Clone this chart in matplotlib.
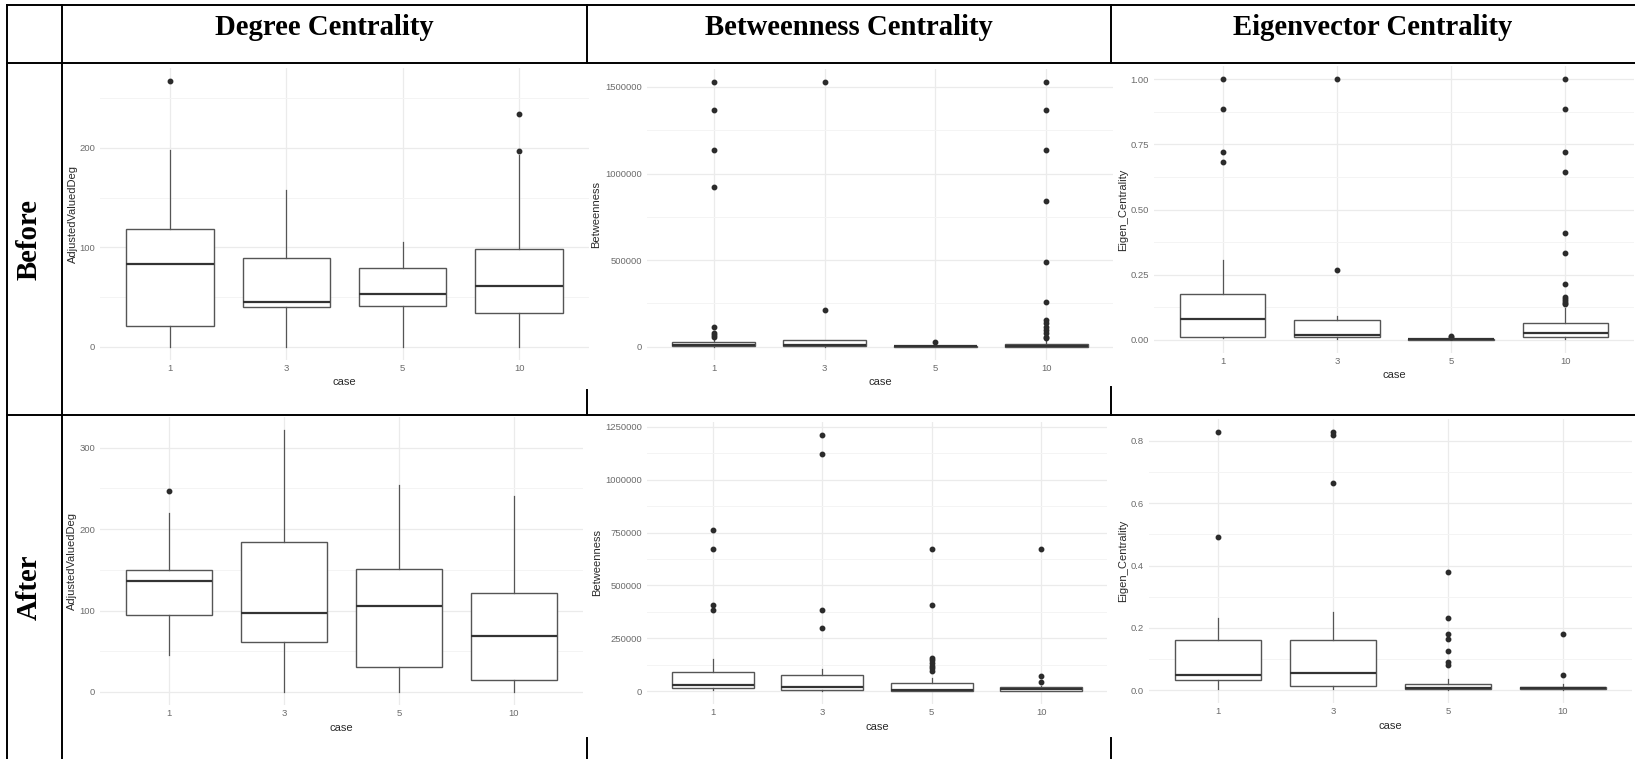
import matplotlib
matplotlib.use("Agg")
import matplotlib.pyplot as plt
from matplotlib.lines import Line2D
from matplotlib.ticker import FixedLocator

# ---------------- data ----------------
cases = ["1", "3", "5", "10"]
col_titles = ["Degree Centrality", "Betweenness Centrality", "Eigenvector Centrality"]
row_titles = ["Before", "After"]
y_titles = ["AdjustedValuedDeg", "Betweenness", "Eigen_Centrality"]

# Before - degree
deg_b_low = [0, 0, 0, 0]
deg_b_q1 = [20.8, 39.7, 41, 33.6]
deg_b_med = [83.7, 45, 52.8, 61.5]
deg_b_q3 = [118.7, 89.4, 79, 98.5]
deg_b_high = [198, 158, 105, 193]
deg_b_out = [[267], [], [], [234, 197.3]]

# Before - betweenness
btw_b_low = [0, 0, 0, 0]
btw_b_q1 = [2000, 3800, 500, 1000]
btw_b_med = [9600, 13000, 2000, 5800]
btw_b_q3 = [27000, 36500, 6000, 17300]
btw_b_high = [46000, 40000, 12000, 40000]
btw_b_out = [[1527000, 1369000, 1138500, 923000, 115400, 80000, 70000, 58000],
             [1527000, 211500],
             [28800],
             [1527000, 1369000, 1138000, 844000, 486500, 255800, 153800, 134600,
              115400, 96000, 77000, 57700, 48000]]

# Before - eigenvector
eig_b_low = [0.006, 0.003, 0.0, 0.002]
eig_b_q1 = [0.013, 0.010, 0.0005, 0.013]
eig_b_med = [0.080, 0.019, 0.002, 0.027]
eig_b_q3 = [0.176, 0.075, 0.004, 0.064]
eig_b_high = [0.305, 0.091, 0.008, 0.122]
eig_b_out = [[1.0, 0.884, 0.722, 0.682],
             [1.0, 0.267],
             [0.017, 0.013],
             [1.0, 0.884, 0.722, 0.642, 0.411, 0.335, 0.214, 0.165, 0.158, 0.150, 0.143, 0.138]]

# After - degree
deg_a_low = [45.9, 0, 0, 0]
deg_a_q1 = [94, 61, 31, 14.8]
deg_a_med = [136, 96.7, 105.7, 68.4]
deg_a_q3 = [150, 184.8, 151, 121.7]
deg_a_high = [220, 321.7, 253.7, 241]
deg_a_out = [[246.7], [], [], []]

# After - betweenness
btw_a_low = [7900, 0, 0, 0]
btw_a_q1 = [15700, 7900, 0, 1000]
btw_a_med = [31500, 22000, 7900, 11000]
btw_a_q3 = [92900, 78700, 41000, 18900]
btw_a_high = [152700, 105500, 60000, 26000]
btw_a_out = [[763500, 672200, 407700, 385700],
             [1212000, 1122500, 385700, 299100],
             [672200, 407700, 157400, 146400, 133800, 121200, 108600, 94500],
             [672200, 70800, 44100]]

# After - eigenvector
eig_a_low = [0.004, 0.004, 0.0, 0.001]
eig_a_q1 = [0.031, 0.013, 0.002, 0.004]
eig_a_med = [0.050, 0.056, 0.007, 0.0075]
eig_a_q3 = [0.162, 0.160, 0.018, 0.011]
eig_a_high = [0.232, 0.250, 0.036, 0.018]
eig_a_out = [[0.829, 0.490], [0.829, 0.820, 0.665],
             [0.379, 0.231, 0.180, 0.163, 0.124, 0.089, 0.081],
             [0.180, 0.049]]

# tick values / labels
deg_b_ticks = [0, 100, 200]
deg_b_labels = ["0", "100", "200"]
btw_b_ticks = [0, 500000, 1000000, 1500000]
btw_b_labels = ["0", "500000", "1000000", "1500000"]
eig_b_ticks = [0, 0.25, 0.5, 0.75, 1.0]
eig_b_labels = ["0.00", "0.25", "0.50", "0.75", "1.00"]
deg_a_ticks = [0, 100, 200, 300]
deg_a_labels = ["0", "100", "200", "300"]
btw_a_ticks = [0, 250000, 500000, 750000, 1000000, 1250000]
btw_a_labels = ["0", "250000", "500000", "750000", "1000000", "1250000"]
eig_a_ticks = [0, 0.2, 0.4, 0.6, 0.8]
eig_a_labels = ["0.0", "0.2", "0.4", "0.6", "0.8"]

# ---------------- layout ----------------
W, H = 1635, 759
fig = plt.figure(figsize=(W / 100, H / 100), dpi=100)
fig.patch.set_facecolor("white")

def rect(x0, y0, x1, y1):
    return [x0 / W, 1 - y1 / H, (x1 - x0) / W, (y1 - y0) / H]

SANS = "Liberation Sans"
SERIF = "Liberation Serif"

panels = [
    dict(box=(100, 68, 589, 360), ylab_x=73, case_y=382,
         stats=(deg_b_low, deg_b_q1, deg_b_med, deg_b_q3, deg_b_high, deg_b_out),
         ticks=deg_b_ticks, labels=deg_b_labels, title=y_titles[0]),
    dict(box=(647, 69, 1113, 360), ylab_x=596.5, case_y=382,
         stats=(btw_b_low, btw_b_q1, btw_b_med, btw_b_q3, btw_b_high, btw_b_out),
         ticks=btw_b_ticks, labels=btw_b_labels, title=y_titles[1]),
    dict(box=(1154, 66, 1634, 353), ylab_x=1123, case_y=375,
         stats=(eig_b_low, eig_b_q1, eig_b_med, eig_b_q3, eig_b_high, eig_b_out),
         ticks=eig_b_ticks, labels=eig_b_labels, title=y_titles[2]),
    dict(box=(100, 417, 583, 705), ylab_x=72, case_y=728,
         stats=(deg_a_low, deg_a_q1, deg_a_med, deg_a_q3, deg_a_high, deg_a_out),
         ticks=deg_a_ticks, labels=deg_a_labels, title=y_titles[0]),
    dict(box=(647, 422, 1107, 704), ylab_x=597, case_y=727,
         stats=(btw_a_low, btw_a_q1, btw_a_med, btw_a_q3, btw_a_high, btw_a_out),
         ticks=btw_a_ticks, labels=btw_a_labels, title=y_titles[1]),
    dict(box=(1149, 419, 1632, 703), ylab_x=1123, case_y=726,
         stats=(eig_a_low, eig_a_q1, eig_a_med, eig_a_q3, eig_a_high, eig_a_out),
         ticks=eig_a_ticks, labels=eig_a_labels, title=y_titles[2]),
]

EDGE = "#555555"
for p in panels:
    x0, y0, x1, y1 = p["box"]
    ax = fig.add_axes(rect(x0, y0, x1, y1))
    ax.set_facecolor("white")
    low, q1, med, q3, high, out = p["stats"]
    bstats = []
    for i, c in enumerate(cases):
        bstats.append(dict(label=c, whislo=low[i], q1=q1[i], med=med[i],
                           q3=q3[i], whishi=high[i], fliers=out[i]))
    ax.bxp(bstats, positions=range(1, len(cases) + 1), widths=0.75,
           showcaps=False, patch_artist=True,
           boxprops=dict(facecolor="white", edgecolor=EDGE, linewidth=1.0),
           whiskerprops=dict(color=EDGE, linewidth=0.9),
           medianprops=dict(color="#333333", linewidth=1.6),
           flierprops=dict(marker="o", markerfacecolor="#2b2b2b",
                           markeredgecolor="#2b2b2b", markersize=3.2))
    # ggplot-style limits: 5% expansion on continuous, 0.6 on discrete
    allv = low + high + [v for o in out for v in o]
    lo, hi = min(allv), max(allv)
    pad = 0.05 * (hi - lo)
    ax.set_ylim(lo - pad, hi + pad)
    ax.set_xlim(0.4, len(cases) + 0.6)
    t = p["ticks"]
    step = t[1] - t[0]
    ax.yaxis.set_major_locator(FixedLocator(t))
    ax.set_yticklabels(p["labels"])
    minors = [v + step / 2 for v in [t[0] - step] + t]
    ax.yaxis.set_minor_locator(FixedLocator(minors))
    ax.set_xticks(range(1, len(cases) + 1))
    ax.set_xticklabels(cases)
    ax.grid(which="major", color="#EBEBEB", linewidth=0.9, zorder=0)
    ax.grid(which="minor", axis="y", color="#F4F4F4", linewidth=0.7, zorder=0)
    ax.set_axisbelow(True)
    for s in ax.spines.values():
        s.set_visible(False)
    ax.tick_params(which="both", length=0)
    ax.tick_params(axis="y", pad=3.5, labelsize=6.8, labelcolor="#6b6b6b")
    ax.tick_params(axis="x", pad=3.2, labelsize=6.8, labelcolor="#6b6b6b")
    for lab in ax.get_xticklabels() + ax.get_yticklabels():
        lab.set_fontfamily(SANS)
    ax.set_ylabel(p["title"], fontsize=8, color="#2a2a2a", family=SANS, va="center")
    ax.yaxis.set_label_coords((p["ylab_x"] - x0) / (x1 - x0), 0.5)
    ax.set_xlabel("case", fontsize=8, color="#2a2a2a", family=SANS, va="center")
    ax.xaxis.set_label_coords(0.5, 1 - (p["case_y"] - y0) / (y1 - y0))

# ---------------- table frame ----------------
ov = fig.add_axes([0, 0, 1, 1], zorder=10)
ov.set_xlim(0, W)
ov.set_ylim(H, 0)
ov.axis("off")
ov.patch.set_alpha(0)
segs = [
    ((7, 5), (W, 5)), ((7, 63), (W, 63)), ((7, 415), (W, 415)),
    ((7, 5), (7, H)), ((62, 5), (62, H)),
    ((587, 5), (587, 63)), ((587, 390), (587, 415)), ((587, 738), (587, H)),
    ((1111, 5), (1111, 63)), ((1111, 387), (1111, 415)), ((1111, 738), (1111, H)),
]
for (a, b) in segs:
    ov.add_line(Line2D([a[0], b[0]], [a[1], b[1]], color="black", linewidth=1.4,
                       solid_capstyle="projecting"))

col_centers = [324.5, 849, 1373]
for cx, txt in zip(col_centers, col_titles):
    ov.text(cx, 35, txt, ha="center", va="baseline", fontsize=20.7,
            fontweight="bold", family=SERIF, color="black")
for cy, txt in zip([239, 587], row_titles):
    ov.text(29, cy, txt, ha="center", va="center", rotation=90, fontsize=20.7,
            fontweight="bold", family=SERIF, color="black")

fig.savefig("out.png", dpi=100, facecolor="white")
